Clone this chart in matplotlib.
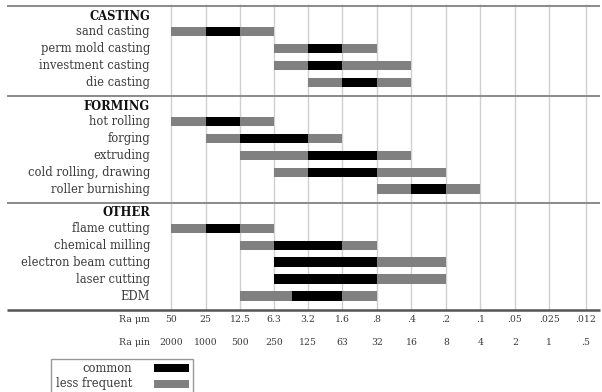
import numpy as np
import matplotlib
matplotlib.use("Agg")
import matplotlib.pyplot as plt
from matplotlib.patches import Rectangle

# Ra scale (micrometres) and matching microinch labels
ra_um = [50, 25, 12.5, 6.3, 3.2, 1.6, 0.8, 0.4, 0.2, 0.1, 0.05, 0.025, 0.012]
ra_um_labels = ["50", "25", "12.5", "6.3", "3.2", "1.6", ".8", ".4", ".2", ".1", ".05", ".025", ".012"]
ra_uin_labels = ["2000", "1000", "500", "250", "125", "63", "32", "16", "8", "4", "2", "1", ".5"]

sections = ["CASTING", "FORMING", "OTHER"]

casting = ["sand casting", "perm mold casting", "investment casting", "die casting"]
casting_less = [(50, 6.3), (6.3, 0.8), (6.3, 0.4), (3.2, 0.4)]
casting_common = [(25, 12.5), (3.2, 1.6), (3.2, 1.6), (1.6, 0.8)]

forming = ["hot rolling", "forging", "extruding", "cold rolling, drawing", "roller burnishing"]
forming_less = [(50, 6.3), (25, 1.6), (12.5, 0.4), (6.3, 0.2), (0.8, 0.1)]
forming_common = [(25, 12.5), (12.5, 3.2), (3.2, 0.8), (3.2, 0.8), (0.4, 0.2)]

other = ["flame cutting", "chemical milling", "electron beam cutting", "laser cutting", "EDM"]
other_less = [(50, 6.3), (12.5, 0.8), (6.3, 0.2), (6.3, 0.2), (12.5, 0.8)]
other_common = [(25, 12.5), (6.3, 1.6), (6.3, 0.8), (6.3, 0.8), (4.4, 1.6)]

groups = [(casting, casting_less, casting_common),
          (forming, forming_less, forming_common),
          (other, other_less, other_common)]

BLACK = "#000000"
GRAY = "#808080"
TXT = "#3a3a3a"
plt.rcParams["font.family"] = "DejaVu Serif"

fig = plt.figure(figsize=(6.02, 3.92), dpi=100)
ax = fig.add_axes([0, 0, 1, 1])
ax.set_xscale("log", base=2)
ax.axis("off")

# pixel layout: 50 -> x=171, one column = 34.5 px ; one row = 16.9 px, y=0 at pixel 6
col_px, row_px = 34.5, 16.9
def px_to_ra(px):
    return 50 / 2 ** ((px - 171) / col_px)
ax.set_xlim(px_to_ra(0), px_to_ra(602))
ax.set_ylim((392 - 6) / row_px, -6 / row_px)

x_label = px_to_ra(150)
x_left, x_right = px_to_ra(7), px_to_ra(600)

y = 0.0
rule_ys = [y]
for name, (items, less, common) in zip(sections, groups):
    y += 0.6
    ax.text(x_label, y, name, ha="right", va="center", fontsize=8.3,
            fontweight="bold", color="#111111")
    y += 0.92
    for i, (item, lr, cr) in enumerate(zip(items, less, common)):
        if i > 0:
            y += 1
        ax.text(x_label, y, item, ha="right", va="center", fontsize=8.3, color=TXT)
        ax.barh(y, lr[1] - lr[0], left=lr[0], height=0.56, color=GRAY, lw=0)
        ax.barh(y, cr[1] - cr[0], left=cr[0], height=0.56, color=BLACK, lw=0)
    y += 0.8
    rule_ys.append(y)

bottom = rule_ys[-1]
ax.vlines(ra_um, -0.12, bottom, color="#d0d0d0", lw=1, zorder=0)
ax.hlines(rule_ys[:-1], x_left, x_right, color="#8a8a8a", lw=1.4)
ax.hlines(bottom, x_left, x_right, color="#555555", lw=1.8)

y_um = bottom + 0.6
y_uin = bottom + 1.95
ax.text(x_label, y_um, "Ra μm", ha="right", va="center", fontsize=6.7, color=TXT)
ax.text(x_label, y_uin, "Ra μin", ha="right", va="center", fontsize=6.7, color=TXT)
for r, lu, li in zip(ra_um, ra_um_labels, ra_uin_labels):
    ax.text(r, y_um, lu, ha="center", va="center", fontsize=6.7, color=TXT)
    ax.text(r, y_uin, li, ha="center", va="center", fontsize=6.7, color=TXT)

# legend box (figure pixel coordinates)
W, H = 602, 392
fig.patches.append(Rectangle((51 / W, -0.05), (193 - 51) / W, (392 - 359) / H + 0.05,
                             transform=fig.transFigure, fill=False,
                             edgecolor="#999999", lw=1))
for label, c, ypx in [("common", BLACK, 368), ("less frequent", GRAY, 384)]:
    fig.text(132 / W, 1 - ypx / H, label, ha="right", va="center", fontsize=8.3, color=TXT)
    fig.patches.append(Rectangle((154 / W, 1 - (ypx + 4) / H), 35 / W, 8 / H,
                                 transform=fig.transFigure, color=c, lw=0))

fig.savefig("out.png", dpi=100)
